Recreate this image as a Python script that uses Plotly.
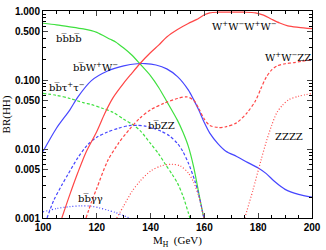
import plotly.graph_objects as go

# H -> HH 衰变分支比
m_bbbb = [100, 105, 110, 115, 118, 120, 125, 127, 130, 133, 136, 140, 143, 146, 150, 152, 154, 156, 158, 159, 159.8]
br_bbbb = [0.665, 0.63, 0.59, 0.55, 0.52, 0.49, 0.39, 0.356, 0.29, 0.23, 0.172, 0.115, 0.078, 0.049, 0.026, 0.0176, 0.011, 0.0055, 0.0022, 0.0014, 0.001]

m_bbww = [100, 105, 110, 113, 118, 124, 130, 135, 138, 142, 146, 150, 154, 156, 158, 160, 162, 165, 168, 172, 176, 180, 183, 186, 190, 195, 200]
br_bbww = [0.0092, 0.020, 0.037, 0.057, 0.098, 0.135, 0.160, 0.172, 0.173, 0.165, 0.145, 0.112, 0.072, 0.052, 0.036, 0.024, 0.017, 0.012, 0.0093, 0.0078, 0.0064, 0.0053, 0.0044, 0.0034, 0.0026, 0.0022, 0.0020]

m_wwww = [107, 110, 113, 116, 120, 123, 126, 130, 133, 136, 140, 143, 146, 150, 154, 157, 160, 162, 165, 170, 175, 179, 182, 185, 188, 191, 195, 200]
br_wwww = [0.001, 0.0022, 0.0046, 0.009, 0.018, 0.033, 0.055, 0.09, 0.125, 0.172, 0.25, 0.32, 0.42, 0.54, 0.66, 0.75, 0.88, 0.94, 0.96, 0.96, 0.96, 0.94, 0.87, 0.76, 0.67, 0.61, 0.58, 0.555]

m_bbtt = [100, 105, 110, 115, 118, 122, 126, 130, 133, 136, 140, 143, 145.5, 148, 150, 152, 154, 154.6]
br_bbtt = [0.064, 0.060, 0.054, 0.047, 0.044, 0.039, 0.034, 0.027, 0.023, 0.0186, 0.012, 0.0085, 0.006, 0.0043, 0.0032, 0.0021, 0.0012, 0.001]

m_bbzz = [101.5, 104, 107, 109.3, 113, 116.5, 120, 124, 128, 132, 135, 138, 141, 144, 147, 150, 152, 154, 156.4, 158, 159.8]
br_bbzz = [0.001, 0.0018, 0.003, 0.0043, 0.0075, 0.0114, 0.0148, 0.0176, 0.020, 0.0218, 0.022, 0.0215, 0.020, 0.018, 0.0155, 0.012, 0.0092, 0.0063, 0.0035, 0.0021, 0.001]

m_wwzz = [116, 118, 120, 124, 128, 132, 136, 140, 145, 150, 153.5, 156, 158, 160, 162, 165, 168, 172, 176, 179, 181, 183, 185, 187, 190, 193, 196, 200]
br_wwzz = [0.001, 0.0017, 0.0027, 0.0067, 0.012, 0.019, 0.028, 0.037, 0.046, 0.054, 0.057, 0.051, 0.038, 0.027, 0.022, 0.0205, 0.021, 0.024, 0.034, 0.050, 0.075, 0.11, 0.14, 0.16, 0.172, 0.178, 0.186, 0.197]

m_zzzz_1 = [127.4, 130, 133, 136, 140, 144, 148, 151, 154, 156, 158, 159.8]
br_zzzz_1 = [0.001, 0.0015, 0.0024, 0.0034, 0.0048, 0.0057, 0.006, 0.0057, 0.0045, 0.0033, 0.002, 0.001]
m_zzzz_2 = [175, 178, 181, 183, 185, 187, 189, 191.4, 195, 200]
br_zzzz_2 = [0.001, 0.0025, 0.0068, 0.0127, 0.022, 0.034, 0.043, 0.052, 0.058, 0.064]

m_bbgg = [100, 105, 110, 114, 118, 121, 124, 127, 130, 132.2]
br_bbgg = [0.00123, 0.00137, 0.00146, 0.0015, 0.00148, 0.0014, 0.0013, 0.0012, 0.00108, 0.001]

x_ticks = [100, 120, 140, 160, 180, 200]
y_ticks = [0.001, 0.005, 0.01, 0.05, 0.1, 0.5, 1.0]
y_ticktext = ['0.001', '0.005', '0.010', '0.050', '0.100', '0.500', '1.000']

green = '#3fe03f'
blue = '#4646ff'
red = '#ff4646'

fig = go.Figure()

def add(x, y, color, dash):
    fig.add_trace(go.Scatter(x=x, y=y, mode='lines', line=dict(color=color, width=1.2, dash=dash, shape='spline', smoothing=0.8), showlegend=False))

add(m_bbbb, br_bbbb, green, 'solid')
add(m_bbtt, br_bbtt, green, '3px,2px')
add(m_bbww, br_bbww, blue, 'solid')
add(m_bbzz, br_bbzz, blue, '3px,2px')
add(m_bbgg, br_bbgg, blue, '1px,2px')
add(m_wwww, br_wwww, red, 'solid')
add(m_wwzz, br_wwzz, red, '3px,2px')
add(m_zzzz_1, br_zzzz_1, red, '1px,2px')
add(m_zzzz_2, br_zzzz_2, red, '1px,2px')

# 曲线标签
bb = 'bb\u0305'
labels = [
    (104, -0.396, bb + bb),
    (110.5, -0.816, bb + 'W<sup>+</sup>W<sup>\u2212</sup>'),
    (101.4, -1.097, bb + '\u03c4<sup>+</sup>\u03c4<sup>\u2212</sup>'),
    (138.4, -1.657, bb + 'ZZ'),
    (112.3, -2.72, bb + '\u03b3\u03b3'),
    (162, -0.214, 'W<sup>+</sup>W<sup>\u2212</sup>W<sup>+</sup>W<sup>\u2212</sup>'),
    (181.9, -0.662, 'W<sup>+</sup>W<sup>\u2212</sup>ZZ'),
    (185.5, -1.825, 'ZZZZ'),
]
for x, y, t in labels:
    fig.add_annotation(x=x, y=y, text=t, showarrow=False, xanchor='left', yanchor='middle',
                       font=dict(family='DejaVu Serif', size=10, color='black'))

minor_y = []
for d in [0.001, 0.01, 0.1]:
    for k in range(2, 10):
        minor_y.append(d * k)

fig.update_xaxes(range=[100, 200], tickvals=x_ticks, ticks='inside', ticklen=5,
                 mirror='allticks', showline=True, linecolor='black', linewidth=1,
                 showgrid=False, zeroline=False,
                 minor=dict(dtick=5, ticks='inside', ticklen=3, tickcolor='black', showgrid=False),
                 tickfont=dict(family='Liberation Sans', size=10, color='black', weight='bold'),
                 title=dict(text='M<sub>H</sub>  (GeV)', standoff=4,
                            font=dict(family='Liberation Serif', size=11, color='black')))
fig.update_yaxes(type='log', range=[-3, 0], tickvals=y_ticks, ticktext=y_ticktext,
                 ticks='inside', ticklen=5, mirror='allticks', showline=True,
                 linecolor='black', linewidth=1, showgrid=False, zeroline=False,
                 minor=dict(tickvals=minor_y, ticks='inside', ticklen=3, tickcolor='black', showgrid=False),
                 tickfont=dict(family='Liberation Sans', size=10, color='black', weight='bold'),
                 title=dict(text='BR(HH)', standoff=2,
                            font=dict(family='Liberation Serif', size=11, color='black')))

fig.update_layout(width=326, height=250, margin=dict(l=41, r=9, t=5, b=31),
                  plot_bgcolor='white', paper_bgcolor='white')

fig.write_html('out.html', config={'displayModeBar': False},
               post_script="document.body.style.margin='0';")
